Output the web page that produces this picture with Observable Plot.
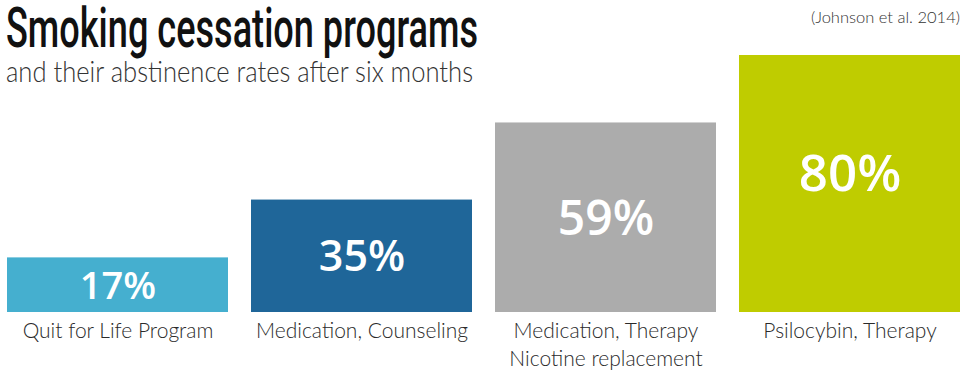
<!DOCTYPE html>
<html>
<head>
<meta charset="utf-8">
<script src="https://cdn.jsdelivr.net/npm/d3@7"></script>
<script src="https://cdn.jsdelivr.net/npm/@observablehq/plot@0.6"></script>
<style>
  html, body { margin: 0; padding: 0; background: #fff; }
  #wrap { position: relative; width: 968px; height: 379px; overflow: hidden; }
  #head { position: absolute; left: 0; top: 0; }
  #chart { position: absolute; left: 0; top: 0; }
</style>
</head>
<body>
<div id="wrap">
  <div id="chart"></div>
  <svg id="head" width="968" height="100">
    <text x="6" y="47" textLength="472" lengthAdjust="spacingAndGlyphs"
      style="font-family:Roboto,sans-serif;font-weight:500;font-size:56px;fill:#111;">Smoking cessation programs</text>
    <text x="6" y="82" textLength="467" lengthAdjust="spacingAndGlyphs"
      style="font-family:Lato,sans-serif;font-weight:300;font-size:29px;fill:#333;">and their abstinence rates after six months</text>
    <text x="960" y="23" text-anchor="end"
      style="font-family:Lato,sans-serif;font-weight:300;font-size:16.5px;fill:#333;">(Johnson et al. 2014)</text>
  </svg>
</div>
<script>
const programs = ["Quit for Life Program", "Medication, Counseling", "Medication, Therapy\nNicotine replacement", "Psilocybin, Therapy"];
const rates = [17, 35, 59, 80];
const colors = ["#45afcf", "#1f6699", "#acacac", "#bfcc00"];
const labelSizes = [38, 43, 48, 51];
const labelShift = [2, 1, 2, -9];

const data = programs.map((p, i) => ({program: p, rate: rates[i], color: colors[i], size: labelSizes[i], shift: labelShift[i]}));

const chart = Plot.plot({
  width: 968,
  height: 379,
  marginLeft: 6,
  marginRight: 8,
  marginTop: 55,
  marginBottom: 67,
  x: {domain: programs, paddingInner: 0.095, paddingOuter: 0, axis: null},
  y: {domain: [0, 80], axis: null},
  marks: [
    Plot.barY(data, {x: "program", y: "rate", fill: "color"}),
    ...data.map(d => Plot.text([d], {x: "program", y: r => r.rate / 2, text: r => r.rate + "%",
      dy: d.shift, fill: "white", fontSize: d.size, fontWeight: 600, fontFamily: "'Open Sans', sans-serif"})),
    Plot.axisX({tickSize: 0, tickPadding: 0, fontSize: 21, lineHeight: 1.35,
      fontFamily: "Lato, sans-serif", fontWeight: 300, color: "#2a2a2a", label: null, textAnchor: "middle",
      dy: 5, lineAnchor: "top"})
  ],
  style: {background: "transparent", overflow: "visible"}
});
document.getElementById("chart").appendChild(chart);
</script>
</body>
</html>
